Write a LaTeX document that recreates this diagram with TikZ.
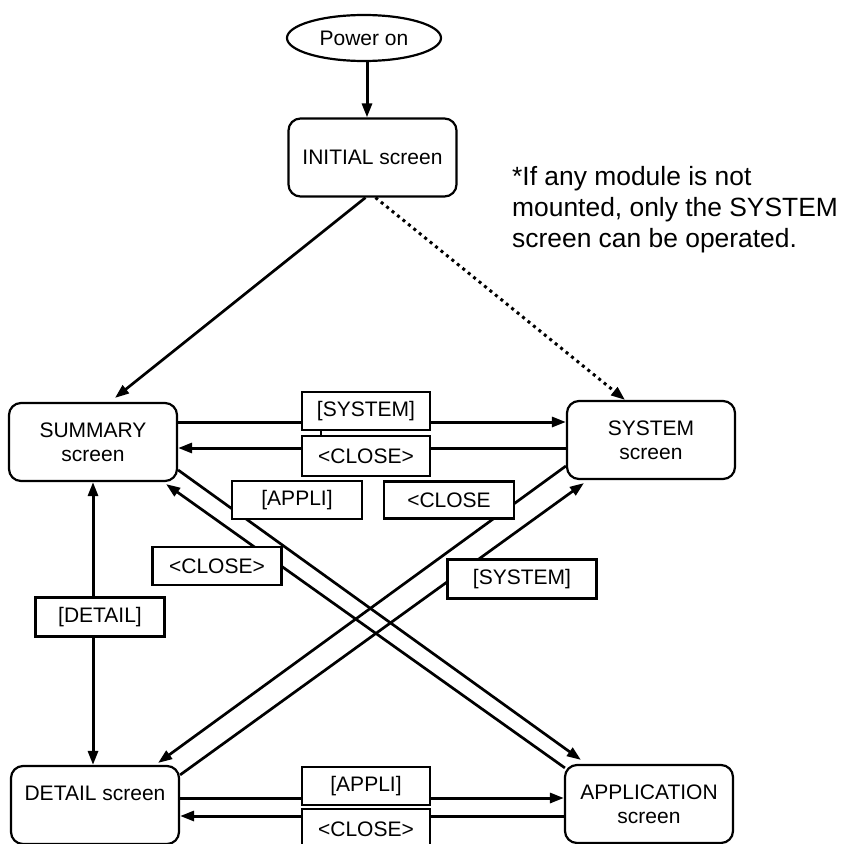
\documentclass[tikz,border=0pt]{standalone}
\usepackage{fontspec}
\setmainfont{Liberation Sans}
\usetikzlibrary{arrows.meta,shapes.geometric,calc}
\begin{document}
\begin{tikzpicture}[x=1pt,y=-1pt,
  labelfont/.style={font=\fontsize{21}{24}\selectfont},
  screenbox/.style={draw,line width=2.2pt,rounded corners=12pt,minimum width=168pt,
    minimum height=78pt,align=center,inner sep=0pt,labelfont},
  keybox/.style={draw,fill=white,line width=2.2pt,minimum width=128pt,
    minimum height=38pt,inner sep=0pt,labelfont},
  tip/.style={-{Triangle[length=14pt,width=10pt]}},
  flow/.style={line width=3pt,tip},
  link/.style={line width=2.7pt,tip},
  notefont/.style={font=\fontsize{26.4}{31}\selectfont,anchor=base west,inner sep=0pt},
  ]
\useasboundingbox (0,0) rectangle (845,843);

% start terminal and screens
\node[draw,ellipse,line width=2.2pt,minimum width=154pt,minimum height=46pt,inner sep=0pt,labelfont]
  (power) at (364,38) {Power on};
\node[screenbox] (initial) at (372.5,157.5) {INITIAL screen};
\node[screenbox] (summary) at (93,442) {SUMMARY\\screen};
\node[screenbox] (system)  at (651,440) {SYSTEM\\screen};
\node[screenbox] (detail)  at (95,805) {DETAIL screen\\\mbox{}};
\node[screenbox] (appl)    at (649,804) {APPLICATION\\screen};

% note on the right
\node[notefont] (note1) at (512,185) {*If any module is not};
\node[notefont] (note2) at (512,216) {mounted, only the SYSTEM};
\node[notefont] (note3) at (512,247) {screen can be operated.};

% power on
\draw[flow] ([xshift=3pt]power.south) -- ([xshift=3pt]power.south |- initial.north);

% from the INITIAL screen
\draw[link] ([xshift=-7pt]initial.south) -- ([xshift=22pt,yshift=4pt]summary.north);
\draw[line width=3pt,dash pattern=on 3pt off 4pt,tip]
  ([xshift=3pt]initial.south) -- ([xshift=-26pt]system.north);

% SUMMARY <-> SYSTEM
\draw[flow] ([yshift=20pt]summary.east) -- ([yshift=20pt]summary.east -| system.west);
\draw[flow] ([yshift=-6pt]summary.east -| system.west) -- ([yshift=-6pt]summary.east);

% DETAIL <-> APPLICATION
\draw[flow] ([yshift=7pt]detail.east) -- ([yshift=7pt]detail.east -| appl.west);
\draw[flow] ([yshift=-11pt]detail.east -| appl.west) -- ([yshift=-11pt]detail.east);

% SUMMARY <-> DETAIL
\draw[line width=3pt,{Triangle[length=14pt,width=10pt]}-{Triangle[length=14pt,width=10pt]}]
  (summary.south) -- (summary.south |- detail.north);

% crossing links
\draw[link] ([yshift=-28pt]summary.east) -- ([xshift=17pt,yshift=4pt]appl.north west);
\draw[link] ([xshift=1pt,yshift=-4pt]appl.north west) -- ([xshift=-12pt,yshift=-2pt]summary.south east);
\draw[link] ([yshift=-26pt]system.west) -- ([xshift=-22pt,yshift=2pt]detail.north east);
\draw[link] ([yshift=-10pt]detail.north east) -- ([xshift=18pt,yshift=-3pt]system.south west);

% key labels
\node[keybox] (ksys1)   at (366,411) {[SYSTEM]};
\node[keybox,minimum height=40pt] (kclose1) at (366,456) {<CLOSE>};
\draw[line width=2pt] ([xshift=-45pt]ksys1.south) -- ([xshift=-45pt]ksys1.south |- kclose1.north);
\node[keybox,minimum width=130pt] (kappli1) at (297,500) {[APPLI]};
\node[keybox,minimum width=130pt,minimum height=37pt] (kclose2) at (449,500) {<CLOSE};
\node[keybox,minimum width=129pt] (kclose3) at (217,566) {<CLOSE>};
\node[keybox,minimum width=149pt,minimum height=39pt] (ksys2) at (522,579) {[SYSTEM]};
\node[keybox,minimum width=129pt,minimum height=39pt] (kdetail) at (100,617) {[DETAIL]};
\node[keybox] (kappli2) at (366,786) {[APPLI]};
\node[keybox,minimum height=40pt] (kclose4) at (366,829) {<CLOSE>};
\end{tikzpicture}
\end{document}
